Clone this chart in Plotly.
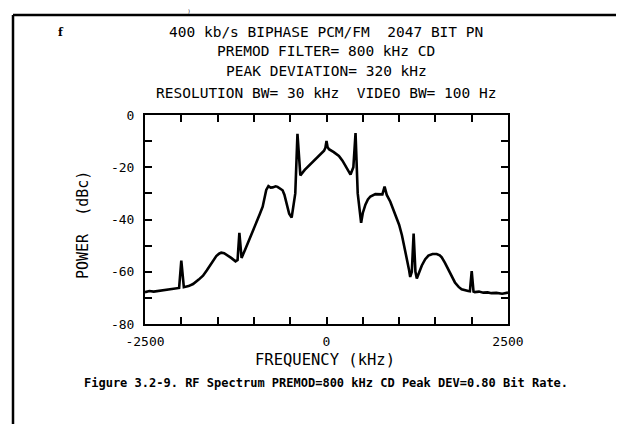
import plotly.graph_objects as go

# ---- data ----
freq_khz = [-2500, -2440, -2380, -2295, -2200, -2120, -2066, -2030, -2000, -1965, -1900,
            -1838, -1760, -1701, -1650, -1610, -1560, -1518, -1480, -1450, -1410, -1381,
            -1313, -1253, -1225, -1200, -1170, -1120, -1062, -1010, -970, -920, -879,
            -850, -830, -800, -770, -742, -700, -674, -640, -605, -580, -559, -540, -514,
            -480, -430, -400, -370, -360, -300, -240, -170, -103, -60, -34, -15, 0, 15,
            34, 100, 171, 220, 262, 300, 331, 370, 400, 430, 477, 500, 536, 570, 605, 673,
            742, 770, 800, 830, 879, 920, 947, 1000, 1039, 1075, 1107, 1135, 1153, 1175,
            1200, 1225, 1244, 1280, 1313, 1360, 1404, 1460, 1518, 1560, 1587, 1630, 1678,
            1720, 1769, 1820, 1861, 1952, 1975, 2000, 2025, 2043, 2100, 2160, 2220, 2271,
            2340, 2420, 2500]
power_dbc = [-67.8, -67.4, -67.6, -67.3, -67.0, -66.6, -66.5, -66.2, -55.7, -65.9, -65.5,
             -64.7, -63.0, -61.5, -59.5, -57.7, -55.5, -54.0, -53.1, -52.7, -52.9, -53.4,
             -54.7, -56.0, -55.5, -45.1, -54.7, -51.5, -47.7, -44.5, -41.4, -38.0, -35.1,
             -31.5, -28.7, -27.2, -27.8, -27.7, -27.3, -27.5, -28.0, -28.8, -30.5, -32.6,
             -35.0, -37.8, -39.3, -30.0, -7.2, -20.0, -23.1, -21.0, -19.4, -17.5, -15.6,
             -14.3, -13.7, -12.5, -9.9, -12.3, -13.1, -14.2, -15.7, -17.5, -19.6, -21.2,
             -22.8, -20.0, -6.9, -30.0, -41.3, -37.5, -34.3, -32.3, -31.2, -30.3, -30.3,
             -30.4, -27.4, -30.6, -33.2, -36.0, -38.3, -42.0, -46.0, -50.5, -55.0, -59.0,
             -62.0, -60.0, -45.4, -60.0, -62.6, -59.5, -57.6, -55.2, -53.8, -53.2, -53.2,
             -53.7, -54.5, -56.5, -59.0, -61.8, -64.1, -65.8, -66.7, -67.4, -67.5, -59.8,
             -67.6, -67.8, -67.6, -68.0, -67.9, -68.2, -68.1, -68.4, -68.0]

x_tick_vals = [-2500, -2000, -1500, -1000, -500, 0, 500, 1000, 1500, 2000, 2500]
x_tick_text = ["-2500", "", "", "", "", "0", "", "", "", "", "2500"]
y_tick_vals = [-80, -70, -60, -50, -40, -30, -20, -10, 0]
y_tick_text = ["-80", "", "-60", "", "-40", "", "-20", "", "0"]

title_lines = ["400 kb/s BIPHASE PCM/FM  2047 BIT PN",
               "PREMOD FILTER= 800 kHz CD",
               "PEAK DEVIATION= 320 kHz",
               "RESOLUTION BW= 30 kHz  VIDEO BW= 100 Hz"]
x_title = "FREQUENCY (kHz)"
y_title = "POWER  (dBc)"
caption = "Figure 3.2-9. RF Spectrum PREMOD=800 kHz CD Peak DEV=0.80 Bit Rate."

# ---- layout geometry (pixels) ----
W, H = 624, 424
L, R, T, B = 137, 500, 107, 316


def xp(px):
    return (px - L) / (R - L)


def yp(py):
    return (B - py) / (B - T)


MONO = "DejaVu Sans Mono"

fig = go.Figure()
fig.add_trace(go.Scatter(x=freq_khz, y=power_dbc, mode="lines",
                         line=dict(color="black", width=2.6), showlegend=False))

axis_common = dict(showgrid=False, zeroline=False, showline=True, linecolor="black",
                   linewidth=2, mirror="ticks", ticks="inside", ticklen=7,
                   tickwidth=1.5, tickcolor="black",
                   tickfont=dict(family=MONO, size=13, color="black"))

fig.update_xaxes(range=[-2500, 2500], tickmode="array", tickvals=x_tick_vals,
                 ticktext=x_tick_text, ticklabelstandoff=4, **axis_common)
fig.update_yaxes(range=[-80, 0], tickmode="array", tickvals=y_tick_vals,
                 ticktext=y_tick_text, ticklabelstandoff=6, **axis_common)

annotations = []
for text, py in zip(title_lines, [24, 43, 63, 85]):
    annotations.append(dict(text=text, x=xp(318), y=yp(py), xref="paper", yref="paper",
                            showarrow=False, xanchor="center", yanchor="middle",
                            font=dict(family=MONO, size=14.5, color="black")))
annotations.append(dict(text=x_title, x=xp(317), y=yp(352), xref="paper", yref="paper",
                        showarrow=False, xanchor="center", yanchor="middle",
                        font=dict(family=MONO, size=15.5, color="black")))
annotations.append(dict(text=y_title, x=xp(75), y=yp(217), xref="paper", yref="paper",
                        showarrow=False, xanchor="center", yanchor="middle", textangle=-90,
                        font=dict(family=MONO, size=15, color="black")))
annotations.append(dict(text="<b>" + caption + "</b>", x=xp(318), y=yp(375), xref="paper",
                        yref="paper", showarrow=False, xanchor="center", yanchor="middle",
                        font=dict(family=MONO, size=12, color="black")))
annotations.append(dict(text="<b>f</b>", x=xp(53), y=yp(24), xref="paper", yref="paper",
                        showarrow=False, xanchor="center", yanchor="middle",
                        font=dict(family="DejaVu Serif", size=11, color="black")))
annotations.append(dict(text=")", x=xp(181), y=yp(3), xref="paper", yref="paper",
                        showarrow=False, xanchor="center", yanchor="middle", borderpad=0,
                        font=dict(family="DejaVu Sans", size=5, color="black")))

shapes = [
    dict(type="line", xref="paper", yref="paper", x0=xp(5), x1=xp(626), y0=yp(7), y1=yp(7),
         line=dict(color="black", width=2.5)),
    dict(type="line", xref="paper", yref="paper", x0=xp(5), x1=xp(5), y0=yp(7), y1=yp(426),
         line=dict(color="black", width=2.5)),
]

fig.update_layout(width=W, height=H, margin=dict(l=L, r=W - R, t=T, b=H - B),
                  paper_bgcolor="white", plot_bgcolor="white",
                  annotations=annotations, shapes=shapes)

fig.write_html("out.html")
